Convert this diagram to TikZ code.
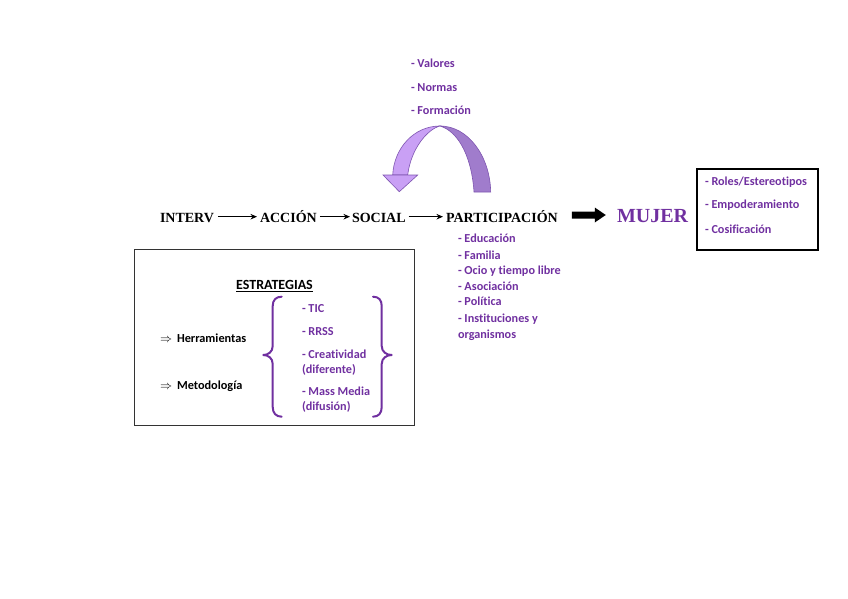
\documentclass[tikz,border=0pt]{standalone}
\usepackage{fontspec}
\setmainfont[Ligatures={NoCommon}]{Carlito}
\newfontfamily\serifb{Liberation Serif}
\usetikzlibrary{arrows.meta,calc}
\definecolor{purp}{HTML}{7030A0}
\definecolor{arrlight}{HTML}{C9A0F5}
\definecolor{arrdark}{HTML}{A07CCC}
\definecolor{arredge}{HTML}{7E55B0}
\begin{document}
\begin{tikzpicture}[x=1pt,y=-1pt,
  every node/.style={inner sep=0pt,outer sep=0pt},
  item/.style={anchor=base west,font=\fontsize{12.2}{14}\selectfont\bfseries,text=purp},
  blk/.style={anchor=base west,font=\fontsize{12.3}{14}\selectfont\bfseries,text=black},
  head/.style={anchor=base west,font=\serifb\fontsize{14}{16}\selectfont\bfseries},
  flow/.style={line width=1.1pt,-{Stealth[length=6.5pt,width=5.5pt]}},
  brc/.style={draw=purp,line width=2pt,line cap=round,line join=round}]
\useasboundingbox (0,0) rectangle (848,599);

% top list
\node[item] (v1) at (411,68) {- Valores};
\node[item] (v2) at (411,92) {- Normas};
\node[item] (v3) at (411,115) {- Formación};

% curved arrow
\fill[arrlight,draw=arredge,line width=0.6pt] (392.7,175) .. controls (394,148) and (414,126) .. (440,126)
   .. controls (428,129) and (411,148) .. (407.7,175) -- cycle;
\fill[arrdark,draw=arredge,line width=0.6pt] (440,126) .. controls (468,126) and (490,156) .. (490.7,192)
   -- (474,192) .. controls (472,160) and (460,132) .. (440,126) -- cycle;
\fill[arrlight,draw=arredge,line width=0.6pt] (383,175) -- (417.7,175) -- (399.3,191.7) -- cycle;

% main row
\node[head] (interv) at (160,222) {INTERV};
\node[head] (accion) at (260,222) {ACCIÓN};
\node[head] (social) at (352,222) {SOCIAL};
\node[head] (partic) at (446,222) {PARTICIPACIÓN};
\node[head,text=purp,font=\serifb\fontsize{20}{22}\selectfont\bfseries] (mujer) at (617,222.6) {MUJER};

\draw[flow] ([xshift=4pt,yshift=5.3pt]interv.base east) -- ([xshift=-3pt,yshift=5.3pt]accion.base west);
\draw[flow] ([xshift=3pt,yshift=5.3pt]accion.base east) -- ([xshift=-2pt,yshift=5.3pt]social.base west);
\draw[flow] ([xshift=3pt,yshift=5.3pt]social.base east) -- ([xshift=-3pt,yshift=5.3pt]partic.base west);

% block arrow
\coordinate (ba) at ([xshift=14pt,yshift=7pt]partic.base east);
\fill[black] (ba) ++(0,-3.5) -- ++(23,0) -- ++(0,-4) -- ++(11,7.5) -- ++(-11,7.5) -- ++(0,-4) -- ++(-23,0) -- cycle;

% right box
\draw[line width=1.4pt] (697,169) rectangle (818,250);
\node[item] (r1) at (705,185) {- Roles/Estereotipos};
\node[item] (r2) at (705,208) {- Empoderamiento};
\node[item] (r3) at (705,233) {- Cosificación};

% participation list
\node[item] (p1) at (458,242) {- Educación};
\node[item] (p2) at (458,259) {- Familia};
\node[item] (p3) at (458,274) {- Ocio y tiempo libre};
\node[item] (p4) at (458,290) {- Asociación};
\node[item] (p5) at (458,305) {- Política};
\node[item] (p6) at (458,322) {- Instituciones y};
\node[item] (p7) at (458,338) {organismos};

% strategies box
\draw[line width=1pt,draw=black!80] (134,249) rectangle (414,425);
\node[blk,anchor=base,font=\fontsize{14}{16}\selectfont\bfseries] (est) at (274.5,289.5) {\underline{ESTRATEGIAS}};
\node[blk] (h) at (160,342) {\normalfont$\Rightarrow$\hspace{5pt}\bfseries Herramientas};
\node[blk] (m) at (160,389) {\normalfont$\Rightarrow$\hspace{5pt}\bfseries Metodología};

\draw[brc] (281.7,296.7) .. controls (276,296.7) and (272.7,300) .. (272.7,306)
  -- (272.7,346) .. controls (272.7,352) and (268,355) .. (263.3,355)
  .. controls (268,355) and (272.7,358) .. (272.7,364)
  -- (272.7,407) .. controls (272.7,413) and (276,416.7) .. (281.7,416.7);
\draw[brc] (373,296.7) .. controls (378.7,296.7) and (381.7,300) .. (381.7,306)
  -- (381.7,346) .. controls (381.7,352) and (386.7,355) .. (391.7,355)
  .. controls (386.7,355) and (381.7,358) .. (381.7,364)
  -- (381.7,407) .. controls (381.7,413) and (378.7,416.7) .. (373,416.7);

\node[item] (s1) at (302,312) {- TIC};
\node[item] (s2) at (302,335) {- RRSS};
\node[item] (s3) at (302,358) {- Creatividad};
\node[item] (s4) at (302,373) {(diferente)};
\node[item] (s5) at (302,395) {- Mass Media};
\node[item] (s6) at (302,410) {(difusión)};
\end{tikzpicture}
\end{document}
